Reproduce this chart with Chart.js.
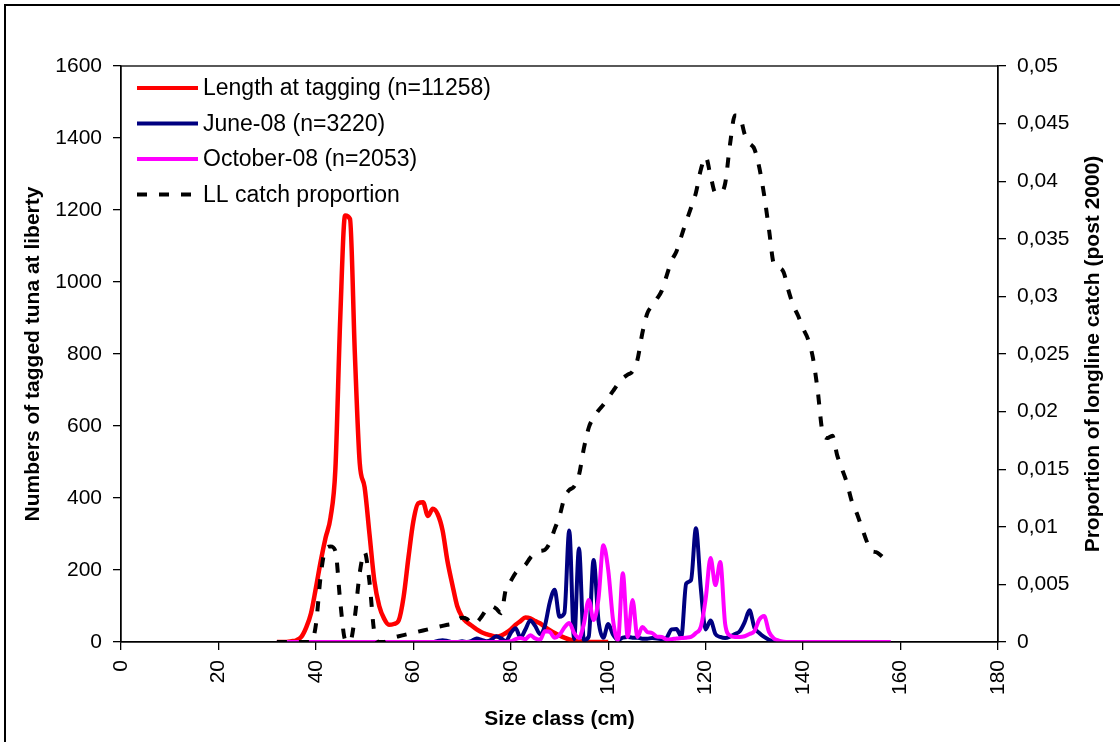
<!DOCTYPE html>
<html>
<head>
<meta charset="utf-8">
<script src="https://cdn.jsdelivr.net/npm/chart.js@4.4.1/dist/chart.umd.min.js"></script>
<style>
    html, body { margin: 0; padding: 0; background: #fff; }
    #wrap { position: relative; width: 1120px; height: 742px; }
</style>
</head>
<body>
<div id="wrap"><canvas id="chart"></canvas></div>
<script>
// Size classes (cm)
const sizeClass = [
    32, 33, 34, 35, 36, 37, 38, 39, 40, 41, 42, 43, 44, 45, 46, 47, 48, 49, 50, 51,
    52, 53, 54, 55, 56, 57, 58, 59, 60, 61, 62, 63, 64, 65, 66, 67, 68, 69, 70, 71,
    72, 73, 74, 75, 76, 77, 78, 79, 80, 81, 82, 83, 84, 85, 86, 87, 88, 89, 90, 91,
    92, 93, 94, 95, 96, 97, 98, 99, 100, 101, 102, 103, 104, 105, 106, 107, 108, 109, 110, 111,
    112, 113, 114, 115, 116, 117, 118, 119, 120, 121, 122, 123, 124, 125, 126, 127, 128, 129, 130, 131,
    132, 133, 134, 135, 136, 137, 138, 139, 140, 141, 142, 143, 144, 145, 146, 147, 148, 149, 150, 151,
    152, 153, 154, 155, 156, 157, 158
];

// Numbers of tagged tuna (left axis)
const lengthAtTagging = [
    0, 0, 0, 2, 5, 14, 40, 80, 150, 225, 290, 345, 480, 900, 1185, 1175, 800, 497, 430, 300,
    170, 100, 65, 48, 50, 60, 125, 235, 335, 385, 388, 350, 370, 355, 310, 225, 160, 100, 70, 55,
    45, 35, 27, 22, 18, 15, 18, 25, 35, 48, 58, 68, 66, 58, 52, 42, 33, 25, 18, 12,
    7, 4, 2, 1, 0, 0, 0, 0, 0, null, null, null, null, null, null, null, null, null, null, null,
    null, null, null, null, null, null, null, null, null, null, null, null, null, null, null, null, null, null, null, null,
    null, null, null, null, null, null, null, null, null, null, null, null, null, null, null, null, null, null, null, null,
    null, null, null, null, null, null, null
];
const june08 = [
    0, 0, 0, 0, 0, 0, 0, 0, 0, 0, 0, 0, 0, 0, 0, 0, 0, 0, 0, 0,
    0, 0, 0, 0, 0, 0, 0, 0, 0, 0, 0, 0, 0, 3, 5, 3, 0, 0, 2, 0,
    3, 10, 6, 2, 6, 16, 10, 2, 25, 38, 12, 35, 60, 45, 22, 45, 110, 145, 70, 80,
    310, 8, 260, 5, 15, 228, 60, 12, 50, 20, 6, 12, 14, 12, 12, 9, 9, 11, 10, 8,
    12, 35, 36, 15, 162, 172, 316, 150, 35, 60, 22, 14, 11, 15, 22, 30, 55, 88, 40, 25,
    14, 6, 2, 0, null, null, null, null, null, null, null, null, null, null, null, null, null, null, null, null,
    null, null, null, null, null, null, null
];
const october08 = [
    0, 0, 0, 0, 0, 0, 0, 0, 0, 0, 0, 0, 0, 0, 0, 0, 0, 0, 0, 0,
    0, 0, 0, 0, 0, 0, 0, 0, 0, 0, 0, 0, 0, 0, 0, 0, 0, 0, 0, 0,
    0, 0, 0, 0, 0, 0, 0, 0, 2, 8, 11, 8, 19, 10, 6, 30, 28, 12, 20, 40,
    53, 25, 11, 50, 117, 61, 120, 269, 200, 60, 5, 191, 14, 117, 14, 42, 28, 25, 15, 14,
    7, 8, 10, 11, 12, 14, 25, 42, 120, 233, 158, 222, 50, 18, 14, 14, 16, 22, 30, 62,
    72, 28, 10, 4, 1, 0, 0, 0, 0, 0, 0, 0, 0, 0, 0, 0, 0, 0, 0, 0,
    0, 0, 0, 0, 0, 0, 0
];

// Longline catch proportion (right axis)
const llCatch = [
    0, 0, 0, 0, 0, 0, 0, 0, 0.0015, 0.0058, 0.0081, 0.0083, 0.0079, 0.0035, 0.0002, 0, 0.0022, 0.006, 0.0078, 0.0052,
    0.0008, 0, 0, 0.0002, 0.0004, 0.0005, 0.0006, 0.0007, 0.0008, 0.0009, 0.001, 0.0011, 0.0012, 0.0013, 0.0014, 0.0015, 0.0016, 0.0019, 0.0021, 0.002,
    0.0016, 0.0017, 0.0022, 0.0028, 0.0031, 0.0029, 0.0025, 0.0046, 0.0053, 0.006, 0.0064, 0.0067, 0.0073, 0.0077, 0.0079, 0.008, 0.0086, 0.0098, 0.0109, 0.0125,
    0.0132, 0.0135, 0.0145, 0.0168, 0.0186, 0.0195, 0.0201, 0.0206, 0.0212, 0.0218, 0.0224, 0.0229, 0.0232, 0.0235, 0.0245, 0.0268, 0.0285, 0.0292, 0.0298, 0.0305,
    0.0318, 0.0331, 0.0339, 0.0352, 0.0365, 0.0377, 0.039, 0.041, 0.0421, 0.0405, 0.039, 0.039, 0.0398, 0.0432, 0.0457, 0.0456, 0.0441, 0.0433, 0.0428, 0.0412,
    0.0388, 0.0358, 0.0328, 0.0325, 0.0321, 0.0305, 0.0292, 0.0283, 0.0272, 0.0263, 0.0247, 0.0218, 0.0182, 0.0177, 0.0179, 0.0162, 0.015, 0.0138, 0.0122, 0.0112,
    0.01, 0.0088, 0.0079, 0.0078, 0.0075, 0.0071, 0.0068
];

const seriesLabels = ['Length at tagging (n=11258)', 'June-08 (n=3220)', 'October-08 (n=2053)', 'LL catch proportion'];
const xTitle = 'Size class (cm)';
const yTitle = 'Numbers of tagged tuna at liberty';
const y2Title = 'Proportion of longline catch (post 2000)';

const FONT = '"Liberation Sans", Arial, sans-serif';
const DASH = [10, 12];

const toPoints = (arr) => sizeClass.map((x, i) => ({ x: x, y: arr[i] }));

// Frame, axis titles and the legend inside the plot
const decorations = {
    id: 'decorations',
    afterDraw(chart) {
        const { ctx, chartArea: a } = chart;
        ctx.save();
        ctx.strokeStyle = '#000';
        ctx.lineWidth = 1.3;
        ctx.strokeRect(a.left, a.top, a.right - a.left, a.bottom - a.top);

        ctx.lineWidth = 2;
        ctx.beginPath();
        ctx.moveTo(5, chart.height);
        ctx.lineTo(5, 5);
        ctx.lineTo(chart.width, 5);
        ctx.stroke();

        ctx.fillStyle = '#000';
        ctx.font = 'bold 21px ' + FONT;
        ctx.textAlign = 'center';
        ctx.textBaseline = 'middle';
        ctx.fillText(xTitle, (a.left + a.right) / 2, 719);

        const midY = (a.top + a.bottom) / 2;
        ctx.save();
        ctx.translate(33, midY);
        ctx.rotate(-Math.PI / 2);
        ctx.fillText(yTitle, 0, 0);
        ctx.restore();

        ctx.save();
        ctx.translate(1093, midY);
        ctx.rotate(-Math.PI / 2);
        ctx.fillText(y2Title, 0, 0);
        ctx.restore();

        // legend
        ctx.font = '23px ' + FONT;
        ctx.textAlign = 'left';
        chart.data.datasets
            .slice()
            .sort((p, q) => p.legendIndex - q.legendIndex)
            .forEach((ds, i) => {
                const y = 88 + i * 35.5;
                ctx.strokeStyle = ds.borderColor;
                ctx.lineWidth = 4;
                ctx.setLineDash(ds.borderDash || []);
                ctx.lineCap = 'butt';
                ctx.beginPath();
                ctx.moveTo(137, y);
                ctx.lineTo(198, y);
                ctx.stroke();
                ctx.setLineDash([]);
                ctx.fillStyle = '#000';
                ctx.fillText(ds.label, 203, y + 1);
            });
        ctx.restore();
    }
};

function commaFormat(v) {
    const r = Math.round(v * 1000) / 1000;
    return String(r).replace('.', ',');
}

const axisGrid = { drawOnChartArea: false, drawTicks: true, tickLength: 8, color: '#000', lineWidth: 1.3 };
const axisBorder = { display: true, color: '#000', width: 1.3 };
const tickFont = { family: FONT, size: 21 };

new Chart(document.getElementById('chart'), {
    type: 'line',
    data: {
        datasets: [
            {
                label: seriesLabels[3], legendIndex: 3, order: 0,
                data: toPoints(llCatch), yAxisID: 'y1',
                borderColor: '#000000', borderWidth: 4, borderDash: DASH, borderCapStyle: 'butt'
            },
            {
                label: seriesLabels[2], legendIndex: 2, order: 1,
                data: toPoints(october08), yAxisID: 'y',
                borderColor: '#FF00FF', borderWidth: 4
            },
            {
                label: seriesLabels[1], legendIndex: 1, order: 2,
                data: toPoints(june08), yAxisID: 'y',
                borderColor: '#000080', borderWidth: 4
            },
            {
                label: seriesLabels[0], legendIndex: 0, order: 3,
                data: toPoints(lengthAtTagging), yAxisID: 'y',
                borderColor: '#FF0000', borderWidth: 4.5
            }
        ]
    },
    options: {
        responsive: true,
        maintainAspectRatio: false,
        animation: false,
        layout: { padding: { top: 66, left: 0, right: 0, bottom: 0 } },
        elements: {
            point: { radius: 0 },
            line: { cubicInterpolationMode: 'monotone', fill: false, borderJoinStyle: 'round' }
        },
        plugins: {
            legend: { display: false },
            tooltip: { enabled: false }
        },
        scales: {
            x: {
                type: 'linear', min: 0, max: 180,
                ticks: { stepSize: 20, minRotation: 90, maxRotation: 90, padding: 10, color: '#000', font: tickFont },
                grid: axisGrid, border: axisBorder,
                afterFit: (s) => { s.height = 100; }
            },
            y: {
                position: 'left', min: 0, max: 1600,
                ticks: { stepSize: 200, padding: 11, color: '#000', font: tickFont, callback: (v) => String(v) },
                grid: axisGrid, border: axisBorder,
                afterFit: (s) => { s.width = 121; }
            },
            y1: {
                position: 'right', min: 0, max: 0.05,
                ticks: { stepSize: 0.005, padding: 11, color: '#000', font: tickFont, callback: commaFormat },
                grid: axisGrid, border: axisBorder,
                afterFit: (s) => { s.width = 122; }
            }
        }
    },
    plugins: [decorations]
});
</script>
</body>
</html>
